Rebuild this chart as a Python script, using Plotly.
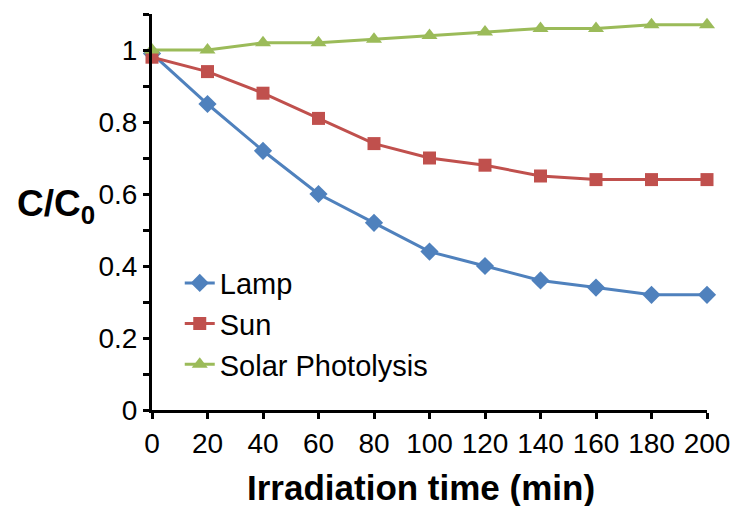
import plotly.graph_objects as go

time_min = [0, 20, 40, 60, 80, 100, 120, 140, 160, 180, 200]
lamp = [0.99, 0.85, 0.72, 0.60, 0.52, 0.44, 0.40, 0.36, 0.34, 0.32, 0.32]
sun = [0.98, 0.94, 0.88, 0.81, 0.74, 0.70, 0.68, 0.65, 0.64, 0.64, 0.64]
solar = [1.00, 1.00, 1.02, 1.02, 1.03, 1.04, 1.05, 1.06, 1.06, 1.07, 1.07]

y_tickvals = [0, 0.1, 0.2, 0.3, 0.4, 0.5, 0.6, 0.7, 0.8, 0.9, 1.0, 1.1]
y_ticktext = ["0", "", "0.2", "", "0.4", "", "0.6", "", "0.8", "", "1", ""]
x_tickvals = [0, 20, 40, 60, 80, 100, 120, 140, 160, 180, 200]

FONT = "Liberation Sans, Arial, sans-serif"

fig = go.Figure()
fig.add_trace(go.Scatter(x=time_min, y=lamp, name="Lamp", mode="lines+markers",
                         line=dict(color="#4F81BD", width=3),
                         marker=dict(symbol="diamond", size=14, color="#4F81BD"),
                         cliponaxis=False))
fig.add_trace(go.Scatter(x=time_min, y=sun, name="Sun", mode="lines+markers",
                         line=dict(color="#C0504D", width=3),
                         marker=dict(symbol="square", size=13, color="#C0504D"),
                         cliponaxis=False))
fig.add_trace(go.Scatter(x=time_min, y=solar, name="Solar Photolysis", mode="lines+markers",
                         line=dict(color="#9BBB59", width=3),
                         marker=dict(symbol="triangle-up", size=14, color="#9BBB59"),
                         cliponaxis=False))

fig.update_layout(
    width=742, height=506,
    margin=dict(l=152, r=29, t=14, b=96),
    paper_bgcolor="white", plot_bgcolor="white",
    font=dict(family=FONT, size=28, color="black"),
    showlegend=True,
    legend=dict(x=0.05, y=0.385, xanchor="left", yanchor="top",
                bgcolor="rgba(0,0,0,0)", font=dict(size=29, family=FONT),
                tracegroupgap=0),
    xaxis=dict(range=[0, 200], tickvals=x_tickvals, showgrid=False, zeroline=False,
               showline=True, linecolor="black", linewidth=3,
               ticks="outside", ticklen=6, tickwidth=3, tickcolor="black",
               tickfont=dict(size=28, family=FONT)),
    yaxis=dict(range=[0, 1.1], tickvals=y_tickvals, ticktext=y_ticktext,
               showgrid=False, zeroline=False,
               showline=True, linecolor="black", linewidth=3,
               ticks="outside", ticklen=6, tickwidth=3, tickcolor="black",
               tickfont=dict(size=28, family=FONT)),
    annotations=[
        dict(text="<b>Irradiation time (min)</b>", xref="paper", yref="paper",
             x=0.485, y=-0.195, xanchor="center", yanchor="middle", showarrow=False,
             font=dict(size=35, family=FONT)),
        dict(text="<b>C/C<sub>0</sub></b>", xref="paper", yref="paper",
             x=-0.10, y=0.515, xanchor="right", yanchor="middle", showarrow=False,
             font=dict(size=37, family=FONT)),
    ],
)

fig.write_html("out.html")
